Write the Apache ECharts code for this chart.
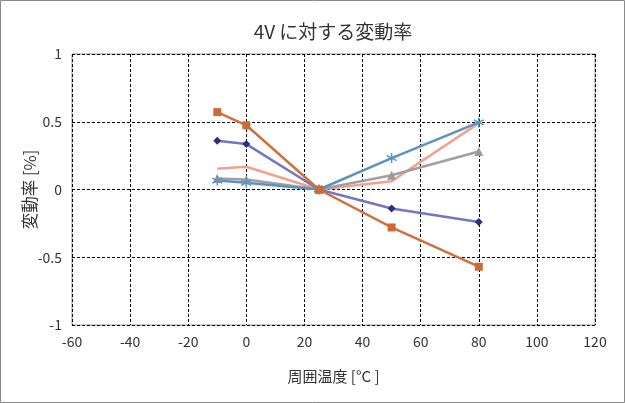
<!DOCTYPE html>
<html><head><meta charset="utf-8">
<script src="https://cdn.jsdelivr.net/npm/echarts@6/dist/echarts.min.js"></script>
<style>html,body{margin:0;padding:0;background:#fff}#c{width:625px;height:403px}</style>
</head><body><div id="c"></div>
<script>
const temps = [-10, 0, 25, 50, 80];
const sOrange = [0.571, 0.474, 0, -0.28, -0.57];
const sNavy = [0.359, 0.335, 0, -0.14, -0.24];
const sSalmon = [0.154, 0.168, 0, 0.061, 0.49];
const sGray = [0.081, 0.073, 0, 0.105, 0.28];
const sBlue = [0.066, 0.049, 0, 0.232, 0.495];
const xTicks = [-60, 120, 20];
const yTicks = [-1, 1, 0.5];
const titleText = '4V に対する変動率';

const font = '"Noto Sans CJK JP", "Noto Sans", sans-serif';
function pts(v){ return temps.map((t,i)=>[t, v[i]]); }
function ser(v, lineColor, markerColor, symbol, size, extra){
  return {type:'line', data: pts(v), symbol: symbol, symbolSize: size, showSymbol: symbol !== 'none',
    lineStyle:{color: lineColor, width: 2.5}, itemStyle: Object.assign({color: markerColor}, extra||{}), z: 3};
}
const chart = echarts.init(document.getElementById('c'), null, {renderer:'canvas'});
chart.setOption({
  animation:false,
  graphic:[
    {type:'rect', shape:{x:0.5,y:0.5,width:624,height:402}, style:{fill:'none', stroke:'#8a8a8a', lineWidth:1}, silent:true},
    {type:'text', x:333, y:32, style:{text:titleText, textAlign:'center', textVerticalAlign:'middle', font:'19px ' + font, fill:'#333'}}
  ],
  grid:{left:72, right:30, top:54, bottom:78, show:true, borderColor:'#999', borderWidth:1},
  xAxis:{type:'value', min:xTicks[0], max:xTicks[1], interval:xTicks[2],
    name:'周囲温度 [°C ]', nameLocation:'middle', nameGap:44, nameMoveOverlap:false,
    nameTextStyle:{fontFamily:font, fontSize:15, color:'#333'},
    axisLine:{show:false}, axisTick:{show:false},
    axisLabel:{fontFamily:font, fontSize:14, color:'#333', margin:10},
    splitLine:{show:true, lineStyle:{color:'#000', type:[3,2], width:1}}},
  yAxis:{type:'value', min:yTicks[0], max:yTicks[1], interval:yTicks[2],
    name:'変動率 [%]', nameLocation:'middle', nameGap:34, nameRotate:90, nameMoveOverlap:false,
    nameTextStyle:{fontFamily:font, fontSize:16.5, color:'#333'},
    axisLine:{show:false}, axisTick:{show:false},
    axisLabel:{fontFamily:font, fontSize:14, color:'#333', margin:10},
    splitLine:{show:true, lineStyle:{color:'#000', type:[3,2], width:1}}},
  series:[
    ser(sSalmon, '#F2A28C', '#F2A28C', 'none', 0),
    ser(sGray, '#A0A0A0', '#9a9a9a', 'triangle', 9),
    ser(sBlue, '#5A93C2', 'rgba(0,0,0,0)', 'path://M0,-5L0,5M-4.3,-2.5L4.3,2.5M-4.3,2.5L4.3,-2.5', 10, {borderColor:'#5A93C2', borderWidth:1.5}),
    ser(sNavy, '#7376C2', '#2C2F7E', 'diamond', 8),
    ser(sOrange, '#D2703A', '#CD6A34', 'rect', 8)
  ]
});
</script></body></html>
